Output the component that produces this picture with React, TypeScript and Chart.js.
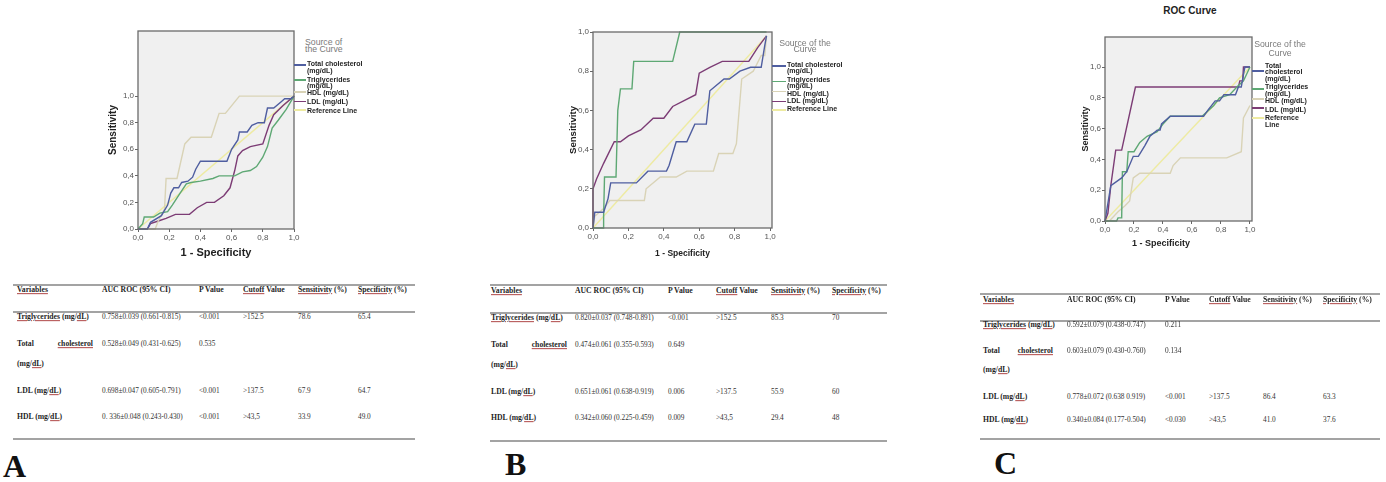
import React, { useEffect, useRef } from "react";
import { Chart, registerables } from "chart.js";

Chart.register(...registerables);

// ---------------- DATA ----------------
const tickValues = [0, 0.2, 0.4, 0.6, 0.8, 1.0];
const seriesNames = ["Total cholesterol (mg/dL)", "Triglycerides (mg/dL)", "HDL (mg/dL)", "LDL (mg/dL)", "Reference Line"];

// Panel A ROC curves: [1 - specificity, sensitivity]
const aTotalChol = [[0,0],[0.06,0],[0.08,0.05],[0.15,0.1],[0.19,0.18],[0.21,0.27],[0.23,0.31],[0.26,0.31],[0.28,0.35],[0.32,0.36],[0.35,0.39],[0.37,0.45],[0.4,0.51],[0.57,0.51],[0.6,0.6],[0.64,0.67],[0.65,0.73],[0.7,0.73],[0.73,0.78],[0.77,0.8],[0.81,0.8],[0.83,0.91],[0.87,0.91],[0.92,0.96],[0.94,0.98],[0.98,0.98],[1,1]];
const aTrig = [[0,0],[0.03,0.04],[0.04,0.09],[0.1,0.09],[0.14,0.12],[0.19,0.13],[0.22,0.18],[0.27,0.27],[0.31,0.34],[0.34,0.35],[0.4,0.36],[0.48,0.38],[0.52,0.4],[0.62,0.4],[0.67,0.43],[0.72,0.44],[0.76,0.47],[0.8,0.54],[0.83,0.62],[0.86,0.76],[0.9,0.82],[0.95,0.9],[1,1]];
const aHdl = [[0,0],[0.11,0],[0.13,0.06],[0.17,0.15],[0.18,0.38],[0.25,0.38],[0.3,0.64],[0.34,0.69],[0.47,0.69],[0.52,0.87],[0.56,0.87],[0.65,1],[1,1]];
const aLdl = [[0,0],[0.06,0],[0.08,0.04],[0.13,0.06],[0.18,0.08],[0.24,0.11],[0.33,0.11],[0.38,0.16],[0.44,0.2],[0.49,0.2],[0.55,0.25],[0.59,0.31],[0.62,0.44],[0.64,0.55],[0.67,0.59],[0.72,0.62],[0.8,0.64],[0.84,0.78],[0.87,0.86],[0.93,0.93],[1,1]];
const aRef = [[0,0],[1,1]];

// Panel B
const bTotalChol = [[0,0],[0.01,0.08],[0.06,0.08],[0.085,0.15],[0.1,0.23],[0.245,0.23],[0.31,0.29],[0.415,0.29],[0.43,0.32],[0.47,0.44],[0.53,0.44],[0.575,0.53],[0.64,0.53],[0.66,0.7],[0.74,0.76],[0.77,0.76],[0.83,0.8],[0.89,0.82],[0.95,0.82],[0.97,0.93],[0.98,0.98]];
const bTrig = [[0,0],[0.06,0],[0.06,0.06],[0.065,0.26],[0.13,0.26],[0.14,0.6],[0.155,0.71],[0.22,0.71],[0.23,0.85],[0.45,0.85],[0.49,1],[0.98,1]];
const bHdl = [[0,0],[0.01,0.06],[0.06,0.1],[0.095,0.14],[0.29,0.14],[0.3,0.2],[0.38,0.26],[0.47,0.26],[0.53,0.29],[0.68,0.29],[0.71,0.38],[0.79,0.38],[0.81,0.43],[0.84,0.76],[0.905,0.8],[0.95,0.88],[0.97,0.88],[0.98,0.98]];
const bLdl = [[0,0],[0,0.2],[0.02,0.25],[0.06,0.33],[0.12,0.44],[0.155,0.44],[0.2,0.47],[0.27,0.5],[0.34,0.56],[0.4,0.56],[0.45,0.62],[0.58,0.68],[0.6,0.79],[0.66,0.82],[0.73,0.85],[0.88,0.85],[0.93,0.92],[0.98,0.98]];
const bRef = [[0,0],[0.98,0.98]];

// Panel C
const cTotalChol = [[0,0],[0.04,0.23],[0.115,0.28],[0.15,0.32],[0.195,0.42],[0.23,0.42],[0.275,0.49],[0.31,0.55],[0.36,0.59],[0.38,0.59],[0.39,0.63],[0.45,0.68],[0.68,0.68],[0.71,0.72],[0.76,0.78],[0.79,0.78],[0.82,0.82],[0.9,0.82],[0.92,0.87],[0.94,0.87],[0.955,0.95],[0.965,1],[1,1]];
const cTrig = [[0,0],[0.08,0],[0.09,0.02],[0.115,0.02],[0.12,0.32],[0.15,0.32],[0.16,0.45],[0.2,0.45],[0.24,0.51],[0.29,0.55],[0.36,0.58],[0.4,0.63],[0.45,0.68],[0.67,0.68],[0.75,0.75],[0.79,0.8],[0.86,0.82],[0.91,0.87],[0.955,0.91],[0.98,0.96],[1,1]];
const cHdl = [[0,0],[0.03,0],[0.09,0.06],[0.14,0.1],[0.17,0.13],[0.195,0.28],[0.24,0.31],[0.45,0.31],[0.47,0.36],[0.52,0.41],[0.84,0.41],[0.94,0.45],[0.955,0.67],[1,0.75]];
const cLdl = [[0,0],[0.02,0.05],[0.04,0.23],[0.074,0.46],[0.115,0.46],[0.21,0.87],[0.92,0.87],[0.93,0.91],[0.95,0.91],[0.955,1],[1,1]];
const cRef = [[0,0],[1,1]];

// Tables
const tableHeaders = ["_Variables_", "AUC ROC (95% CI)", "P Value", "_Cutoff_ Value", "_Sensitivity_ (%)", "_Specificity_ (%)"];
const tableVariables = ["_Triglycerides_ (mg/_dL_)", "Total|_cholesterol_|(mg/_dL_)", "LDL (mg/_dL_)", "HDL (mg/_dL_)"];
const tableA = [
  ["0.758±0.039 (0.661-0.815)", "<0.001", ">152.5", "78.6", "65.4"],
  ["0.528±0.049 (0.431-0.625)", "0.535", "", "", ""],
  ["0.698±0.047 (0.605-0.791)", "<0.001", ">137.5", "67.9", "64.7"],
  ["0. 336±0.048 (0.243-0.430)", "<0.001", ">43,5", "33.9", "49.0"],
];
const tableB = [
  ["0.820±0.037 (0.748-0.891)", "<0.001", ">152.5", "85.3", "70"],
  ["0.474±0.061 (0.355-0.593)", "0.649", "", "", ""],
  ["0.651±0.061 (0.638-0.919)", "0.006", ">137.5", "55.9", "60"],
  ["0.342±0.060 (0.225-0.459)", "0.009", ">43,5", "29.4", "48"],
];
const tableC = [
  ["0.592±0.079 (0.438-0.747)", "0.211", "", "", ""],
  ["0.603±0.079 (0.430-0.760)", "0.134", "", "", ""],
  ["0.778±0.072 (0.638 0.919)", "<0.001", ">137.5", "86.4", "63.3"],
  ["0.340±0.084 (0.177-0.504)", "<0.030", ">43,5", "41.0", "37.6"],
];

// ---------------- STYLE / LAYOUT ----------------
const seriesColors = ["#4f5ea0", "#5ea874", "#d9d3b6", "#7c3c75", "#eeeba2"];
const SANS = "'Liberation Sans', Arial, sans-serif";
const SERIF = "'Liberation Serif', 'Times New Roman', serif";

const panels = [
  {
    key: "A", label: "A", labelPos: [3, 450],
    series: [aTotalChol, aTrig, aHdl, aLdl, aRef],
    canvas: { left: 103, top: 25, width: 201, height: 240 },
    pad: { top: 6, right: 10 }, yAxisW: 35, xAxisH: 36, xMax: 1, yMax: 1.49,
    xTitleSize: 11, yTitleSize: 10, xTitlePad: 5.9, yTitlePad: 4.5, xTitleHtml: null,
    legend: {
      title: ["Source of", "the Curve"], titleX: 305, titleAlign: "left", titleYs: [41.5, 49],
      textX: 307, lineX1: 294, lineX2: 306,
      texts: [["Total cholesterol", 63.3], ["(mg/dL)", 70], ["Triglycerides", 78.7], ["(mg/dL)", 85], ["HDL (mg/dL)", 92], ["LDL (mg/dL)", 101], ["Reference Line", 110]],
      lineYs: [65, 80, 92, 101.7, 110],
    },
    table: { data: tableA, cols: [17, 102, 199, 243, 298, 358], headerY: 290, rowYs: [317, 344, 391, 417], wrapY: 364, cholEnd: 93, x1: 13, x2: 415, lineYs: [285, 312, 439] },
  },
  {
    key: "B", label: "B", labelPos: [505, 448],
    series: [bTotalChol, bTrig, bHdl, bLdl, bRef],
    canvas: { left: 563, top: 20, width: 227, height: 246 },
    pad: { top: 12, right: 18 }, yAxisW: 30, xAxisH: 38, xMax: 1.011, yMax: 1.0,
    xTitleSize: 8.5, yTitleSize: 9.6, xTitlePad: 7.4, yTitlePad: 4.7, xTitleHtml: null,
    legend: {
      title: ["Source of the", "Curve"], titleX: 805, titleAlign: "center", titleYs: [42.5, 49],
      textX: 787, lineX1: 772, lineX2: 786,
      texts: [["Total cholesterol", 64], ["(mg/dL)", 70], ["Triglycerides", 79], ["(mg/dL)", 85], ["HDL (mg/dL)", 92.5], ["LDL (mg/dL)", 100], ["Reference Line", 108]],
      lineYs: [66, 81.7, 91.7, 101.7, 110],
    },
    table: { data: tableB, cols: [491, 575, 668, 716, 771, 832], headerY: 291, rowYs: [318, 345, 392, 418], wrapY: 365, cholEnd: 567, x1: 490, x2: 887, lineYs: [285, 313, 441] },
  },
  {
    key: "C", label: "C", labelPos: [994, 447],
    series: [cTotalChol, cTrig, cHdl, cLdl, cRef],
    canvas: { left: 1075, top: 30, width: 195, height: 225 },
    pad: { top: 7, right: 18 }, yAxisW: 30, xAxisH: 34, xMax: 1.014, yMax: 1.195,
    xTitleSize: 9, yTitleSize: 9, xTitlePad: 6.6, yTitlePad: 5.6, xTitleHtml: [1161, 243],
    legend: {
      title: ["Source of the", "Curve"], titleX: 1280, titleAlign: "center", titleYs: [44, 52.5],
      textX: 1265, lineX1: 1252, lineX2: 1264,
      texts: [["Total", 65], ["cholesterol", 71], ["(mg/dL)", 78], ["Triglycerides", 86], ["(mg/dL)", 93], ["HDL (mg/dL)", 100], ["LDL (mg/dL)", 109], ["Reference", 117], ["Line", 124]],
      lineYs: [71, 89, 99, 108, 118],
    },
    table: { data: tableC, cols: [983, 1067, 1165, 1209, 1263, 1323], headerY: 300, rowYs: [325, 351, 397, 420], wrapY: 370, cholEnd: 1053, x1: 980, x2: 1380, lineYs: [294, 321, 439] },
  },
];

const plotFramePlugin = {
  id: "plotFrame",
  beforeDraw(chart: any) {
    const { ctx, chartArea: a } = chart;
    ctx.save();
    ctx.fillStyle = "#f0f0f0";
    ctx.fillRect(a.left, a.top, a.right - a.left, a.bottom - a.top);
    ctx.restore();
  },
  afterDatasetsDraw(chart: any) {
    const { ctx, chartArea: a } = chart;
    ctx.save();
    ctx.strokeStyle = "#6a6a6a";
    ctx.lineWidth = 1.3;
    ctx.strokeRect(a.left, a.top, a.right - a.left, a.bottom - a.top);
    ctx.restore();
  },
};

const fmtTick = (v: number) => v.toFixed(1).replace(".", ",");

function RocChart({ p }: { p: any }) {
  const ref = useRef<HTMLCanvasElement>(null);
  useEffect(() => {
    if (!ref.current) return;
    const chart = new Chart(ref.current, {
      type: "line",
      data: {
        datasets: p.series.map((pts: number[][], i: number) => ({
          label: seriesNames[i],
          data: pts.map(([x, y]) => ({ x, y })),
          borderColor: seriesColors[i],
          backgroundColor: seriesColors[i],
          borderWidth: 1.4,
          pointRadius: 0,
          tension: 0,
          fill: false,
          clip: 3,
        })),
      },
      options: {
        animation: false,
        responsive: false,
        maintainAspectRatio: false,
        devicePixelRatio: 1,
        layout: { padding: { top: p.pad.top, right: p.pad.right, left: 0, bottom: 0 } },
        plugins: { legend: { display: false }, tooltip: { enabled: false }, title: { display: false } },
        scales: {
          x: {
            type: "linear",
            min: 0,
            max: p.xMax,
            afterBuildTicks: (axis: any) => { axis.ticks = tickValues.map((v) => ({ value: v })); },
            afterFit: (s: any) => { s.height = p.xAxisH; },
            ticks: { callback: (v: any) => fmtTick(Number(v)), font: { family: SANS, size: 8 }, color: "#555", padding: 1, maxRotation: 0 },
            grid: { display: true, drawOnChartArea: false, drawTicks: true, tickLength: 3, color: "#666" },
            border: { display: false },
            title: { display: !p.xTitleHtml, text: "1 - Specificity", font: { family: SANS, size: p.xTitleSize, weight: "bold" }, color: "#222", padding: { top: 0, bottom: p.xTitlePad } },
          },
          y: {
            type: "linear",
            min: 0,
            max: p.yMax,
            afterBuildTicks: (axis: any) => { axis.ticks = tickValues.map((v) => ({ value: v })); },
            afterFit: (s: any) => { s.width = p.yAxisW; },
            ticks: { callback: (v: any) => fmtTick(Number(v)), font: { family: SANS, size: 8 }, color: "#555", padding: 1 },
            grid: { display: true, drawOnChartArea: false, drawTicks: true, tickLength: 3, color: "#666" },
            border: { display: false },
            title: { display: true, text: "Sensitivity", font: { family: SANS, size: p.yTitleSize, weight: "bold" }, color: "#222", padding: { top: p.yTitlePad, bottom: 0 } },
          },
        },
      },
      plugins: [plotFramePlugin],
    } as any);
    return () => chart.destroy();
  }, []);
  const c = p.canvas;
  return (
    <canvas
      ref={ref}
      width={c.width}
      height={c.height}
      style={{ position: "absolute", left: c.left, top: c.top, width: c.width, height: c.height }}
    />
  );
}

function Txt({ x, y, size, bold, color, family, align, children }: any) {
  const tx = align === "center" ? "-50%" : align === "right" ? "-100%" : "0";
  return (
    <div
      style={{
        position: "absolute", left: x, top: y, fontSize: size, lineHeight: 1,
        fontWeight: bold ? "bold" : "normal", color: color || "#222", fontFamily: family || SANS,
        whiteSpace: "nowrap", transform: `translate(${tx}, -50%)`,
      }}
    >
      {children}
    </div>
  );
}

function Marked({ text }: { text: string }) {
  const parts = text.split("_");
  return (
    <>
      {parts.map((s, i) =>
        i % 2 === 1 ? (
          <span key={i} style={{ textDecoration: "underline", textDecorationColor: "#b04848", textDecorationThickness: "1px", textUnderlineOffset: "1px" }}>{s}</span>
        ) : (
          <span key={i}>{s}</span>
        )
      )}
    </>
  );
}

function Legend({ lg }: { lg: any }) {
  return (
    <>
      {lg.title.map((t: string, i: number) => (
        <Txt key={"t" + i} x={lg.titleX} y={lg.titleYs[i]} size={8.7} color="#7a7a7a" align={lg.titleAlign}>{t}</Txt>
      ))}
      {lg.lineYs.map((y: number, i: number) => (
        <div key={"l" + i} style={{ position: "absolute", left: lg.lineX1, top: y - 0.75, width: lg.lineX2 - lg.lineX1, height: 1.5, background: seriesColors[i] }} />
      ))}
      {lg.texts.map(([t, y]: [string, number], i: number) => (
        <Txt key={"x" + i} x={lg.textX} y={y} size={7} bold color="#1e1e1e">{t}</Txt>
      ))}
    </>
  );
}

function Table({ tb }: { tb: any }) {
  const hs = 7.7;
  const ds = 7.3;
  const col = "#1f1f1f";
  return (
    <>
      {tb.lineYs.map((y: number, i: number) => (
        <div key={"ln" + i} style={{ position: "absolute", left: tb.x1, top: y - 1, width: tb.x2 - tb.x1, height: 2, background: "#a3a3a3" }} />
      ))}
      {tableHeaders.map((h, i) => (
        <Txt key={"h" + i} x={tb.cols[i]} y={tb.headerY} size={hs} bold family={SERIF} color={col}><Marked text={h} /></Txt>
      ))}
      {tableVariables.map((v, r) => {
        if (v.includes("|")) {
          const [w1, w2, w3] = v.split("|");
          return (
            <React.Fragment key={"v" + r}>
              <Txt x={tb.cols[0]} y={tb.rowYs[r]} size={hs} bold family={SERIF} color={col}><Marked text={w1} /></Txt>
              <Txt x={tb.cholEnd} y={tb.rowYs[r]} size={hs} bold family={SERIF} color={col} align="right"><Marked text={w2} /></Txt>
              <Txt x={tb.cols[0]} y={tb.wrapY} size={hs} bold family={SERIF} color={col}><Marked text={w3} /></Txt>
            </React.Fragment>
          );
        }
        return <Txt key={"v" + r} x={tb.cols[0]} y={tb.rowYs[r]} size={hs} bold family={SERIF} color={col}><Marked text={v} /></Txt>;
      })}
      {tb.data.map((row: string[], r: number) =>
        row.map((cell, c) =>
          cell ? (
            <Txt key={"d" + r + "_" + c} x={tb.cols[c + 1]} y={tb.rowYs[r]} size={ds} family={SERIF} color="#333">{cell}</Txt>
          ) : null
        )
      )}
    </>
  );
}

export default function App() {
  return (
    <div style={{ position: "absolute", left: 0, top: 0, width: 1386, height: 482, background: "#ffffff", overflow: "hidden" }}>
      {panels.map((p) => (
        <React.Fragment key={p.key}>
          <RocChart p={p} />
          {p.xTitleHtml ? (
            <Txt x={p.xTitleHtml[0]} y={p.xTitleHtml[1]} size={p.xTitleSize} bold align="center" color="#222">1 - Specificity</Txt>
          ) : null}
          <Legend lg={p.legend} />
          <Table tb={p.table} />
          <div style={{ position: "absolute", left: p.labelPos[0], top: p.labelPos[1], fontFamily: SERIF, fontWeight: "bold", fontSize: 32, lineHeight: "32px", color: "#111" }}>{p.label}</div>
        </React.Fragment>
      ))}
      <Txt x={1190} y={11} size={10} bold align="center" color="#222">ROC Curve</Txt>
    </div>
  );
}
